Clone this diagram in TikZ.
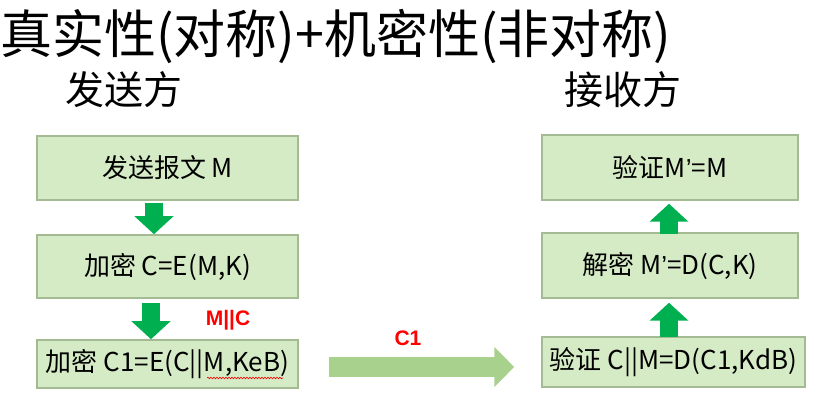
\documentclass[tikz,border=0pt]{standalone}
\usepackage{fontspec}
\setmainfont{Noto Sans CJK SC}
\newfontfamily\latb{Liberation Sans}
\newcommand{\apos}{{\latb ’}}
\usetikzlibrary{arrows.meta,decorations.pathmorphing}
\definecolor{boxfill}{HTML}{D5EBC5}
\definecolor{boxline}{HTML}{A3BA93}
\definecolor{darkgr}{HTML}{00B050}
\definecolor{lightgr}{HTML}{A9D18E}
\definecolor{redtxt}{HTML}{FF0000}
\begin{document}
\begin{tikzpicture}[x=1pt,y=-1pt,
  stepbox/.style={draw=boxline,line width=1.5pt,fill=boxfill,inner sep=0pt,
    font=\fontsize{26}{30}\selectfont},
  downarrow/.style={draw=darkgr,line width=18pt,-{Triangle[length=18pt,width=38pt]}},
  bigarrow/.style={draw=lightgr,line width=20pt,-{Triangle[length=20pt,width=39pt]}},
  redlabel/.style={text=redtxt,font=\latb\bfseries\fontsize{21}{24}\selectfont,inner sep=0pt}]
\useasboundingbox (0,0) rectangle (839,414);
\node[anchor=west,inner sep=0pt,font=\fontsize{52}{56}\selectfont] (title) at (0,36) {真实性(对称)+机密性(非对称)};
\node[inner sep=0pt,font=\fontsize{39}{42}\selectfont] (send) at (124,90) {发送方};
\node[inner sep=0pt,font=\fontsize{39}{42}\selectfont] (recv) at (623,90) {接收方};

\node[stepbox,minimum width=261pt,minimum height=64pt] (l1) at (167.5,168) {发送报文 M};
\node[stepbox,minimum width=261pt,minimum height=63pt] (l2) at (167.5,266.5) {加密 C=E(M,K)};
\node[stepbox,minimum width=261pt,minimum height=48pt] (l3) at (167.5,364) {加密 C1=E(C||M,KeB)};

\node[stepbox,minimum width=256pt,minimum height=65pt] (r1) at (670,167.5) {验证M\apos=M};
\node[stepbox,minimum width=256pt,minimum height=65pt] (r2) at (670,265.5) {解密 M\apos=D(C,K)};
\node[stepbox,minimum width=263pt,minimum height=50pt] (r3) at (673.5,362) {验证 C||M=D(C1,KdB)};

\draw[downarrow] ([xshift=-13.5pt,yshift=-2pt]l1.south) -- ([xshift=-13.5pt]l2.north);
\draw[downarrow] ([xshift=-16.5pt,yshift=-4pt]l2.south) -- ([xshift=-16.5pt]l3.north);
\draw[downarrow] ([xshift=-1pt,yshift=-2pt]r2.north) -- ([xshift=-1pt,yshift=-3pt]r1.south);
\draw[downarrow] ([xshift=-4.5pt,yshift=-1pt]r3.north) -- ([xshift=-1pt,yshift=-4pt]r2.south);

\draw[bigarrow] ([xshift=30pt,yshift=-3pt]l3.east) -- ([xshift=-27pt,yshift=-5pt]r3.west);

\node[redlabel] (mc) at (228,320) {M||C};
\node[redlabel] (c1) at (408,338) {C1};

\draw[redtxt,line width=0.6pt,decorate,decoration={snake,amplitude=0.8pt,segment length=3pt}] (207,378) -- (283,378);
\end{tikzpicture}
\end{document}
